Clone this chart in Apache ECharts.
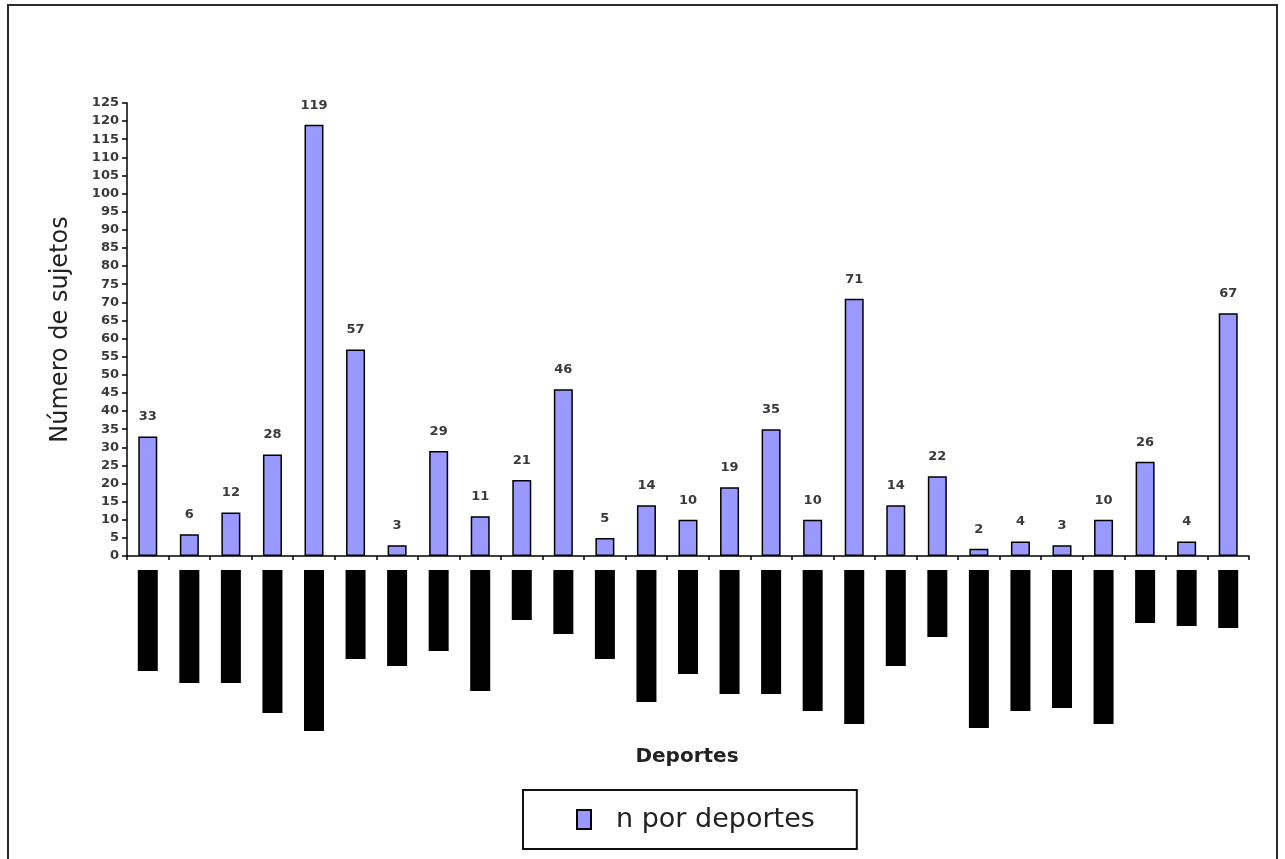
<!DOCTYPE html>
<html>
<head>
<meta charset="utf-8">
<script src="https://cdn.jsdelivr.net/npm/echarts@6/dist/echarts.min.js"></script>
<style>
html,body{margin:0;padding:0;background:#fff;}
#chart{width:1285px;height:859px;}
</style>
</head>
<body>
<div id="chart"></div>
<script>
// Categories (sport names are hidden/redacted in the reference)
const categories = ['D1','D2','D3','D4','D5','D6','D7','D8','D9','D10','D11','D12','D13','D14','D15','D16','D17','D18','D19','D20','D21','D22','D23','D24','D25','D26','D27'];
// n por deportes
const counts = [33,6,12,28,119,57,3,29,11,21,46,5,14,10,19,35,10,71,14,22,2,4,3,10,26,4,67];
// lengths of the redacted (blacked-out) category labels
const hiddenLabelLengths = [101,113,113,143,161,89,96,81,121,50,64,89,132,104,124,124,141,154,96,67,158,141,138,154,53,56,58];
const yTicks = {min:0, max:125, interval:5};

const FONT = 'DejaVu Sans';
const chart = echarts.init(document.getElementById('chart'), null, {renderer:'canvas'});
chart.setOption({
  animation:false,
  backgroundColor:'#fff',
  textStyle:{fontFamily:FONT},
  graphic:[
    {type:'rect', shape:{x:8, y:5, width:1269, height:900},
     style:{fill:'none', stroke:'#2a2a2a', lineWidth:2}, silent:true},
    {type:'text', x:687, y:757,
     style:{text:'Deportes', font:'bold 20px "DejaVu Sans"', fill:'#222', align:'center', verticalAlign:'middle'}}
  ],
  legend:{
    data:[{name:'n por deportes', icon:'rect'}],
    left:523, top:790,
    orient:'horizontal',
    borderColor:'#111', borderWidth:2,
    padding:[16,42,16,53],
    itemWidth:14, itemHeight:19,
    selectedMode:false,
    textStyle:{fontFamily:FONT, fontSize:27, color:'#222', padding:[0,0,0,20]}
  },
  grid:[
    {left:127, top:103, width:1122, height:453, containLabel:false},
    {left:127, top:570, width:1122, height:170, containLabel:false}
  ],
  xAxis:[
    {type:'category', gridIndex:0, data:categories,
     axisLine:{lineStyle:{color:'#000', width:1.5}},
     axisTick:{show:true, alignWithLabel:false, length:4, lineStyle:{color:'#000', width:1.5}},
     axisLabel:{show:false}},
    {type:'category', gridIndex:1, data:categories,
     axisLine:{show:false}, axisTick:{show:false}, axisLabel:{show:false}}
  ],
  yAxis:[
    {type:'value', gridIndex:0, min:yTicks.min, max:yTicks.max, interval:yTicks.interval,
     name:'Número de sujetos', nameLocation:'middle', nameGap:54, nameRotate:90,
     nameTextStyle:{fontFamily:FONT, fontSize:24, color:'#222'},
     axisLine:{show:true, lineStyle:{color:'#000', width:1.5}},
     axisTick:{show:true, length:5, lineStyle:{color:'#000', width:1.5}},
     axisLabel:{fontFamily:FONT, fontSize:13, fontWeight:'bold', color:'#3a3a3a', margin:8},
     splitLine:{show:false}},
    {type:'value', gridIndex:1, min:0, max:170, inverse:true, show:false,
     splitLine:{show:false}}
  ],
  series:[
    {name:'n por deportes', type:'bar', xAxisIndex:0, yAxisIndex:0,
     data:counts, barWidth:19,
     itemStyle:{color:'#9999FF', borderColor:'#000', borderWidth:1.5},
     label:{show:true, position:'top', distance:13, fontFamily:FONT, fontSize:13, fontWeight:'bold', color:'#3a3a3a'}},
    {name:'etiquetas', type:'bar', xAxisIndex:1, yAxisIndex:1,
     data:hiddenLabelLengths, barWidth:20,
     itemStyle:{color:'#000'}, silent:true}
  ]
});
</script>
</body>
</html>
